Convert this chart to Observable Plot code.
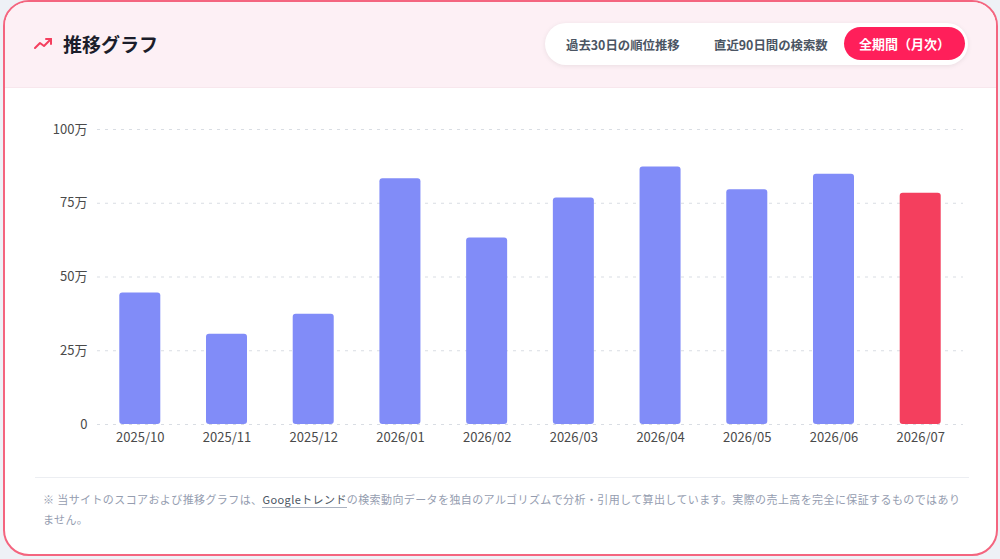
<!DOCTYPE html>
<html><head><meta charset="utf-8">
<script src="https://cdn.jsdelivr.net/npm/d3@7"></script>
<script src="https://cdn.jsdelivr.net/npm/@observablehq/plot@0.6"></script>
<style>
html,body{margin:0;padding:0;width:1000px;height:559px;background:#eef1f6;overflow:hidden;font-family:"Noto Sans CJK JP","Noto Sans",sans-serif;}
.card{position:absolute;left:3px;top:0px;width:991px;height:552px;border:2px solid #f4657f;border-radius:26px;background:#fff;overflow:hidden;}
.header{position:absolute;left:0;top:0;width:100%;height:85px;background:#fdf0f5;border-bottom:1px solid #f8e7ed;}
.abs{position:absolute;}
.title{left:63px;top:30px;font-size:19px;font-weight:700;color:#1b1d2a;line-height:28px;}
.pill{left:545px;top:23px;width:423px;height:42px;border-radius:21px;background:#fff;box-shadow:0 1px 5px rgba(0,0,0,0.08);}
.btn{font-size:12.4px;font-weight:600;color:#4b5563;line-height:20px;top:35px;}
.active{left:844px;top:27px;width:121px;height:33px;border-radius:17px;background:#ff1f5a;color:#fff;font-size:13px;font-weight:700;line-height:33px;text-align:center;}
#chart{left:30px;top:100px;width:940px;height:360px;}
.sep{left:35px;top:477px;width:934px;height:1px;background:#eceef2;}
.note{left:43px;top:489px;font-size:11px;letter-spacing:0.4px;line-height:20px;color:#959db0;white-space:nowrap;}
.note span{color:#4b5563;border-bottom:1px solid #aab2c0;}
</style>
</head><body>
<div class="card"><div class="header"></div></div>
<svg class="abs" style="left:34px;top:36px" width="20" height="16" viewBox="0 0 20 16">
  <polyline points="1,12 6,7 10,10 17,3" fill="none" stroke="#f43f5e" stroke-width="2" stroke-linecap="round" stroke-linejoin="round"/>
  <polyline points="12,3 17,3 17,8" fill="none" stroke="#f43f5e" stroke-width="2" stroke-linecap="round" stroke-linejoin="round"/>
</svg>
<div class="abs title">推移グラフ</div>
<div class="abs pill"></div>
<div class="abs btn" style="left:566px">過去30日の順位推移</div>
<div class="abs btn" style="left:714px">直近90日間の検索数</div>
<div class="abs active">全期間（月次）</div>
<div class="abs" id="chart"></div>
<div class="abs sep"></div>
<div class="abs note">※ 当サイトのスコアおよび推移グラフは、<span>Googleトレンド</span>の検索動向データを独自のアルゴリズムで分析・引用して算出しています。実際の売上高を完全に保証するものではあり<br>ません。</div>
<script>
const months = ["2025/10","2025/11","2025/12","2026/01","2026/02","2026/03","2026/04","2026/05","2026/06","2026/07"];
const values = [446000, 306000, 374000, 833000, 632000, 768000, 873000, 796000, 848000, 784000];
const yTicks = [0, 250000, 500000, 750000, 1000000];
const currentMonth = "2026/07";
const barColor = "#818cf8";
const currentColor = "#f43f5e";

const data = months.map((m, i) => ({month: m, value: values[i]}));

const chart = Plot.plot({
  width: 940,
  height: 360,
  marginLeft: 67,
  marginRight: 7,
  marginTop: 29,
  marginBottom: 36,
  style: {fontFamily: '"Noto Sans CJK JP","Noto Sans",sans-serif', fontSize: "13px", color: "#4a4a4a", background: "transparent"},
  x: {domain: months, paddingInner: 0.527, paddingOuter: 0.257, round: false, label: null},
  y: {domain: [0, 1000000], label: null},
  marks: [
    Plot.gridY(yTicks, {stroke: "#d9dde3", strokeOpacity: 1, strokeDasharray: "3,5"}),
    Plot.barY(data, {x: "month", y: "value", fill: d => d.month === currentMonth ? currentColor : barColor, rx: 3}),
    Plot.axisY(yTicks, {tickSize: 0, tickPadding: 10, tickFormat: d => d === 0 ? "0" : (d / 10000) + "万", label: null, fontSize: 13}),
    Plot.axisX({tickSize: 0, tickPadding: 8, label: null, fontSize: 13})
  ]
});
document.getElementById("chart").appendChild(chart);
</script>
</body></html>
